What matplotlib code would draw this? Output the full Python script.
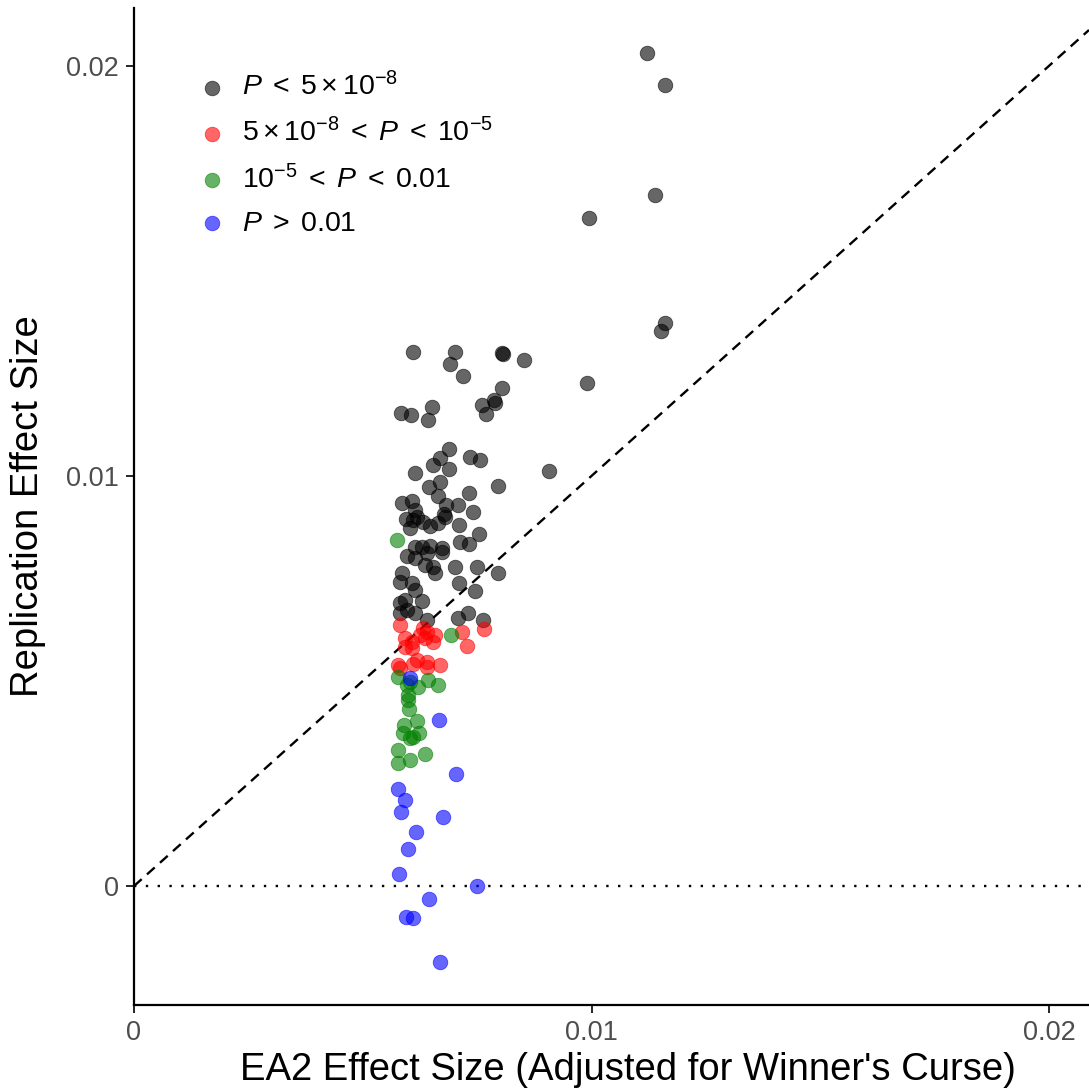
import numpy as np
import matplotlib
matplotlib.use("Agg")
import matplotlib.pyplot as plt

plt.rcParams['font.family'] = ['Liberation Sans', 'DejaVu Sans']
plt.rcParams['mathtext.fontset'] = 'custom'
plt.rcParams['mathtext.rm'] = 'Liberation Sans'
plt.rcParams['mathtext.it'] = 'Liberation Sans:italic'

# effect sizes, in units of 1e-3
ea2_gws = [11.21, 11.61, 11.39, 9.95, 11.61, 11.52, 9.90, 9.07,
           6.10, 7.02, 6.91, 7.19, 8.04, 8.07, 8.52, 8.04, 7.87, 7.89, 7.61, 7.69,
           5.84, 6.05, 6.51, 6.43, 6.89, 6.69, 6.54, 6.89, 7.34, 7.56, 6.14, 6.69,
           6.45, 7.96, 7.32, 6.64, 5.86, 6.08, 6.14, 7.08, 6.82, 7.41, 6.78, 5.95,
           6.10, 6.19, 6.32, 6.47, 6.64, 6.80, 6.03, 7.10, 7.54, 7.13, 7.32, 6.14,
           6.30, 6.47, 6.73, 5.97, 6.14, 6.36, 6.54, 6.58, 7.02, 7.50, 7.96, 5.86,
           5.81, 6.08, 6.14, 7.10, 7.45, 6.30, 5.81, 5.92, 5.81, 5.97, 6.14, 6.40,
           7.08, 7.30, 7.63, 6.40, 6.73]
rep_gws = [20.32, 19.54, 16.85, 16.29, 13.73, 13.54, 12.27, 10.12,
           13.02, 13.02, 12.73, 12.44, 13.00, 12.98, 12.83, 12.15, 11.85, 11.78, 11.73, 11.51,
           11.54, 11.49, 11.68, 11.37, 10.66, 10.44, 10.27, 10.17, 10.46, 10.39, 10.07, 9.85,
           9.73, 9.76, 9.59, 9.51, 9.34, 9.39, 9.17, 9.29, 9.29, 9.12, 9.07, 8.95,
           8.93, 9.00, 8.88, 8.78, 8.85, 9.00, 8.73, 8.80, 8.59, 8.39, 8.34, 8.27,
           8.27, 8.29, 8.24, 8.05, 8.00, 7.83, 7.78, 7.63, 7.78, 7.78, 7.63, 7.63,
           7.41, 7.39, 7.22, 7.39, 7.20, 6.95, 6.90, 6.98, 6.66, 6.73, 6.66, 6.49,
           6.54, 6.66, 6.49, 8.12, 8.15]

ea2_sugg = [5.81, 6.32, 6.40, 6.25, 6.58, 6.54, 6.36, 7.17, 7.65, 7.28, 5.92,
            6.08, 5.92, 6.08, 6.19, 6.40, 6.40, 6.69, 5.77, 5.81, 6.10]
rep_sugg = [6.37, 6.29, 6.20, 6.12, 6.12, 5.95, 6.05, 6.20, 6.27, 5.85, 6.05,
            5.95, 5.83, 5.80, 5.51, 5.46, 5.34, 5.39, 5.39, 5.32, 5.41]

ea2_nom = [5.75, 6.93, 5.77, 6.03, 6.43, 6.64, 6.21, 5.97, 5.99, 5.99, 6.01,
           6.19, 5.90, 6.23, 5.88, 6.03, 5.77, 6.36, 6.03, 5.77, 6.10]
rep_nom = [8.44, 6.12, 5.10, 4.98, 5.02, 4.90, 4.85, 4.90, 4.66, 4.54, 4.32,
           4.02, 3.93, 3.73, 3.73, 3.61, 3.32, 3.22, 3.07, 3.00, 3.63]

ea2_ns = [6.03, 6.67, 7.04, 5.77, 5.92, 5.84, 6.75, 6.16, 5.99, 5.79, 7.50,
          6.45, 5.95, 6.10, 6.69]
rep_ns = [5.07, 4.05, 2.73, 2.37, 2.10, 1.80, 1.68, 1.32, 0.90, 0.29, 0.00,
          -0.32, -0.76, -0.78, -1.85]

groups = [
    (ea2_gws, rep_gws, 'black', r'$P \;<\; 5\times10^{-8}$'),
    (ea2_sugg, rep_sugg, 'red', r'$5\times10^{-8} \;<\; P \;<\; 10^{-5}$'),
    (ea2_nom, rep_nom, 'green', r'$10^{-5} \;<\; P \;<\; 0.01$'),
    (ea2_ns, rep_ns, 'blue', r'$P \;>\; 0.01$'),
]

fig = plt.figure(figsize=(10.89, 10.91), dpi=100)
ax = fig.add_axes([0.123, 0.0788, 0.877, 0.914])

for xs, ys, col, lab in groups:
    ax.scatter(np.array(xs) / 1000, np.array(ys) / 1000, s=110, color=col,
               alpha=0.6, edgecolors=col, linewidths=0.6, label=lab, zorder=3)

ax.axline((0, 0), slope=1, color='black', lw=1.7, linestyle=(0, (4.4, 3.0)), zorder=2)
ax.axhline(0, color='black', lw=1.7, linestyle=(0, (1, 4.0)), zorder=2)

ax.set_xlim(0, 0.02087)
ax.set_ylim(-0.0029, 0.02141)
ax.set_xticks([0, 0.01, 0.02])
ax.set_xticklabels(['0', '0.01', '0.02'])
ax.set_yticks([0, 0.01, 0.02])
ax.set_yticklabels(['0', '0.01', '0.02'])
ax.tick_params(labelsize=19.5, labelcolor='#4d4d4d', length=6, width=1.2, pad=5)

for side in ['top', 'right']:
    ax.spines[side].set_visible(False)
for side in ['left', 'bottom']:
    ax.spines[side].set_linewidth(1.6)

ax.set_xlabel("EA2 Effect Size (Adjusted for Winner's Curse)", fontsize=27.5)
ax.xaxis.set_label_coords(0.517, -0.047)
ax.set_ylabel('Replication Effect Size', fontsize=27.5)
ax.yaxis.set_label_coords(-0.092, 0.5)

ax.legend(loc='upper left', bbox_to_anchor=(0.04, 0.947), frameon=False,
          fontsize=20.5, handletextpad=0.05, labelspacing=0.6, borderaxespad=0,
          scatterpoints=1, markerscale=1.0)

fig.savefig('out.png', dpi=100)
